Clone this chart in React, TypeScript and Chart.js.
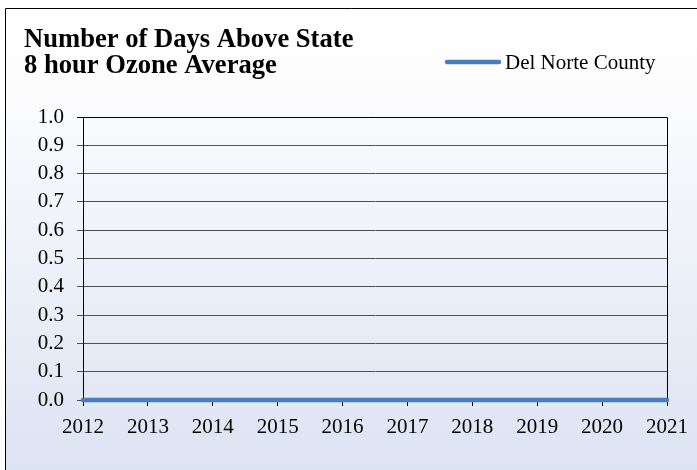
import React, { useEffect, useRef } from "react";
import { Chart, registerables } from "chart.js";

Chart.register(...registerables);

const titleLines = ["Number of Days Above State", "8 hour Ozone Average"];
const years = ["2012", "2013", "2014", "2015", "2016", "2017", "2018", "2019", "2020", "2021"];
const delNorte = [0, 0, 0, 0, 0, 0, 0, 0, 0, 0];
const seriesLabel = "Del Norte County";
const yMin = 0;
const yMax = 1;
const yStep = 0.1;

const SERIF = "'Liberation Serif', 'Times New Roman', serif";
const BLUE = "#4a7ebb";

const decorPlugin = {
  id: "decor",
  beforeDraw(chart: any) {
    const { ctx, width, height } = chart;
    ctx.save();
    const g = ctx.createLinearGradient(0, 8, 0, height);
    g.addColorStop(0, "#ffffff");
    g.addColorStop(0.15, "#fdfdfe");
    g.addColorStop(1, "#dce3f2");
    ctx.fillStyle = g;
    ctx.fillRect(0, 0, width, height);
    ctx.fillStyle = "#ffffff";
    ctx.fillRect(0, 0, width, 8);
    ctx.fillRect(0, 0, 5, height);
    ctx.strokeStyle = "#000000";
    ctx.lineWidth = 1;
    ctx.beginPath();
    ctx.moveTo(5.5, height + 2);
    ctx.lineTo(5.5, 8.5);
    ctx.lineTo(width + 2, 8.5);
    ctx.stroke();
    ctx.restore();
  },
  afterDraw(chart: any) {
    const { ctx, chartArea } = chart;
    ctx.save();
    // plot frame
    ctx.strokeStyle = "#000000";
    ctx.lineWidth = 1;
    ctx.beginPath();
    ctx.moveTo(Math.round(chartArea.left) + 0.5, Math.round(chartArea.top) + 0.5);
    ctx.lineTo(Math.round(chartArea.right) + 0.5, Math.round(chartArea.top) + 0.5);
    ctx.lineTo(Math.round(chartArea.right) + 0.5, Math.round(chartArea.bottom) - 2);
    ctx.stroke();
    // title
    ctx.fillStyle = "#000000";
    ctx.font = `bold 26.6px ${SERIF}`;
    ctx.textAlign = "left";
    ctx.textBaseline = "alphabetic";
    ctx.fillText(titleLines[0], 24, 46.5);
    ctx.fillText(titleLines[1], 24, 73);
    // legend
    const ds = chart.data.datasets[0];
    ctx.strokeStyle = ds.borderColor;
    ctx.lineWidth = 4.5;
    ctx.lineCap = "round";
    ctx.beginPath();
    ctx.moveTo(447, 62);
    ctx.lineTo(499, 62);
    ctx.stroke();
    ctx.font = `21px ${SERIF}`;
    ctx.fillStyle = "#000000";
    ctx.fillText(ds.label, 505, 69);
    ctx.restore();
  },
};

export default function App() {
  const ref = useRef<HTMLCanvasElement>(null);
  useEffect(() => {
    document.body.style.margin = "0";
    const canvas = ref.current!;
    const chart = new Chart(canvas, {
      type: "line",
      data: {
        labels: years,
        datasets: [
          {
            label: seriesLabel,
            data: delNorte,
            borderColor: BLUE,
            backgroundColor: BLUE,
            borderWidth: 4.5,
            borderCapStyle: "round",
            pointRadius: 0,
            tension: 0,
            clip: false as any,
          },
        ],
      },
      options: {
        animation: false,
        responsive: false,
        maintainAspectRatio: false,
        layout: { padding: { left: 0, right: 30, top: 117, bottom: 0 } },
        plugins: {
          legend: { display: false },
          title: { display: false },
          tooltip: { enabled: false },
        },
        scales: {
          x: {
            type: "category",
            offset: false,
            grid: {
              drawOnChartArea: false,
              drawTicks: true,
              tickLength: 6,
              color: "#000000",
            },
            border: { display: true, color: "#000000" },
            ticks: {
              color: "#000000",
              font: { family: SERIF, size: 21 },
              padding: 9,
              maxRotation: 0,
              autoSkip: false,
            },
            afterFit(scale: any) {
              scale.height = 70;
            },
          },
          y: {
            min: yMin,
            max: yMax,
            grid: {
              drawTicks: true,
              tickLength: 6,
              color: (c: any) => (c.tick && c.tick.value >= 0.999 ? "#000000" : "#505050"),
            },
            border: { display: true, color: "#000000" },
            ticks: {
              stepSize: yStep,
              color: "#000000",
              font: { family: SERIF, size: 21 },
              padding: 13,
              callback: (v: any) => Number(v).toFixed(1),
            },
            afterFit(scale: any) {
              scale.width = 83;
            },
          },
        },
      },
      plugins: [decorPlugin],
    });
    return () => chart.destroy();
  }, []);
  return (
    <div style={{ width: 697, height: 470 }}>
      <canvas ref={ref} width={697} height={470} style={{ display: "block", width: 697, height: 470 }} />
    </div>
  );
}
